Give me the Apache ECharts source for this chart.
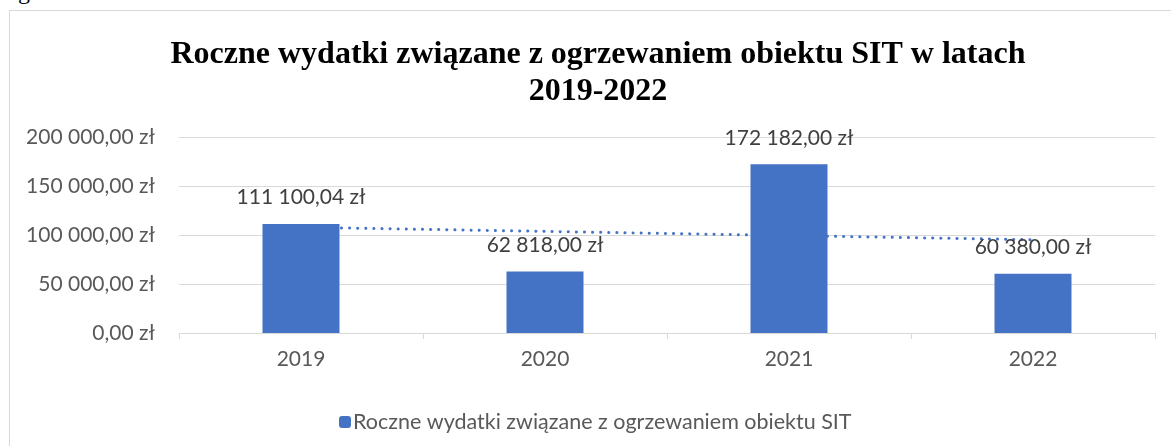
<!DOCTYPE html>
<html>
<head>
<meta charset="utf-8">
<script src="https://cdn.jsdelivr.net/npm/echarts@6/dist/echarts.min.js"></script>
<style>
  html, body { margin: 0; padding: 0; background: #fff; }
  #wrap { position: relative; width: 1171px; height: 446px; overflow: hidden; }
  #frame { position: absolute; left: 9px; top: 10px; width: 1200px; height: 500px; border: 1px solid #d9d9d9; }
  #chart { position: absolute; left: 0; top: 0; width: 1171px; height: 446px; }
  #cut { position: absolute; left: 18px; top: -22px; font: 24px "Liberation Serif", serif; color: #000; }
</style>
</head>
<body>
<div id="wrap">
  <div id="cut">g</div>
  <div id="frame"></div>
  <div id="chart"></div>
</div>
<script>
// dane
let years = ['2019', '2020', '2021', '2022'];
let costs = [111100.04, 62818.00, 172182.00, 60380.00];
let trend = [107900, 103700, 99400, 95200];
let yTicks = [0, 50000, 100000, 150000, 200000];

let seriesName = 'Roczne wydatki związane z ogrzewaniem obiektu SIT';
let title = 'Roczne wydatki związane z ogrzewaniem obiektu SIT w latach\n2019-2022';

function zl(v) {
    let parts = v.toFixed(2).split('.');
    let int = parts[0].replace(/\B(?=(\d{3})+(?!\d))/g, ' ');
    return int + ',' + parts[1] + ' zł';
}

let chartNode = echarts.init(document.getElementById('chart'));

let option = {
    animation: false,
    textStyle: { fontFamily: 'Lato' },
    title: {
        text: title,
        left: 593,
        textAlign: 'center',
        top: 31,
        textStyle: {
            fontFamily: 'Liberation Serif',
            fontWeight: 'bold',
            fontSize: 32,
            lineHeight: 37,
            color: '#000'
        }
    },
    legend: {
        data: [seriesName],
        left: 334,
        top: 406,
        itemWidth: 12,
        itemHeight: 12,
        itemGap: 0,
        textStyle: { fontFamily: 'Lato', fontSize: 21.5, color: '#595959', padding: [0, 0, 0, -3] }
    },
    grid: {
        left: 179,
        right: 16,
        top: 137,
        bottom: 113
    },
    xAxis: {
        type: 'category',
        data: years,
        axisLine: { lineStyle: { color: '#d9d9d9', width: 1 } },
        axisTick: { show: true, length: 6, lineStyle: { color: '#d9d9d9' } },
        axisLabel: { fontFamily: 'Lato', fontSize: 21, color: '#595959', margin: 16 }
    },
    yAxis: {
        type: 'value',
        min: yTicks[0],
        max: yTicks[yTicks.length - 1],
        interval: yTicks[1] - yTicks[0],
        axisLine: { show: false },
        axisTick: { show: false },
        splitLine: { lineStyle: { color: '#d9d9d9', width: 1 } },
        axisLabel: {
            fontFamily: 'Lato',
            fontSize: 21,
            color: '#595959',
            margin: 24,
            formatter: (v) => zl(v)
        }
    },
    series: [
        {
            name: seriesName,
            type: 'bar',
            barWidth: 77,
            itemStyle: { color: '#4472c4' },
            data: costs,
            label: {
                show: true,
                position: 'top',
                distance: 16,
                fontFamily: 'Lato',
                fontSize: 21,
                color: '#404040',
                formatter: (p) => zl(p.value)
            },
            z: 2
        },
        {
            name: 'trend',
            type: 'line',
            data: trend,
            symbol: 'none',
            silent: true,
            lineStyle: { color: '#4472c4', width: 3, type: [0.1, 8], cap: 'round' },
            z: 1
        }
    ]
};

chartNode.setOption(option);
</script>
</body>
</html>
